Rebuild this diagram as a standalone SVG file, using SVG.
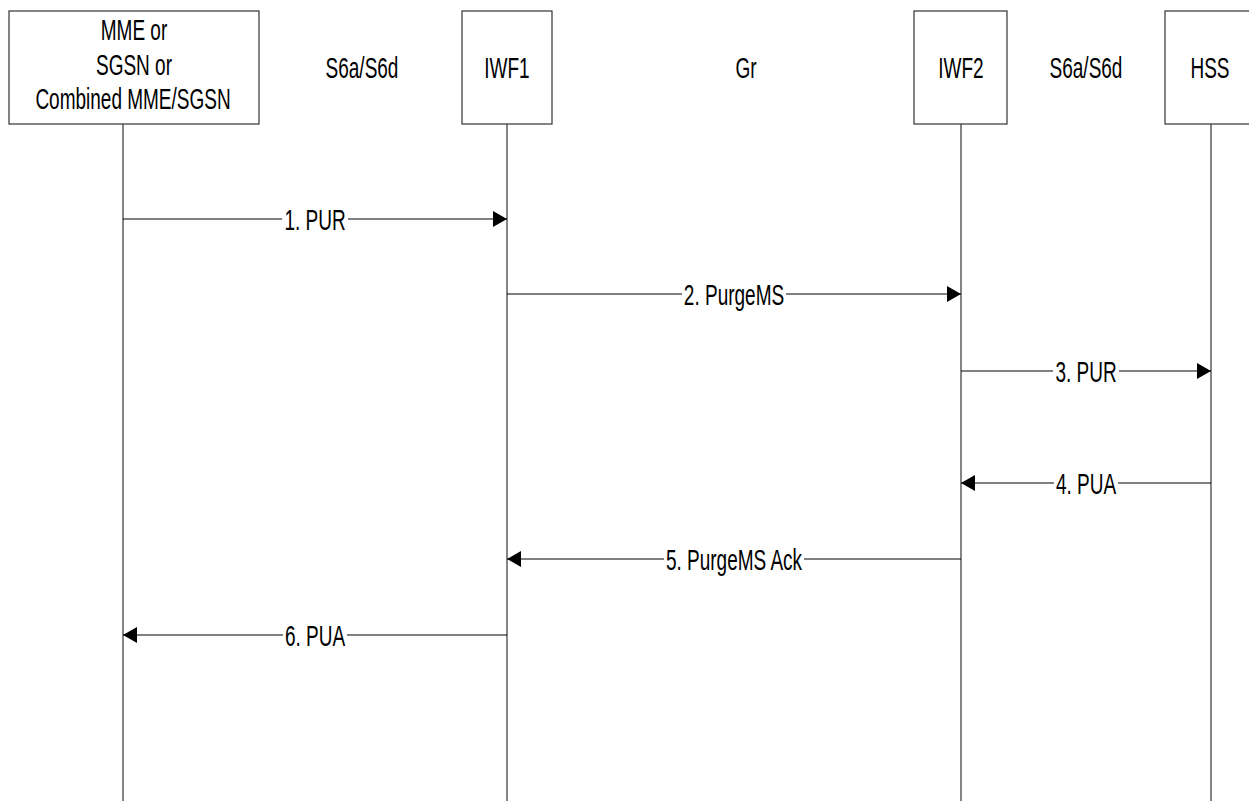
<svg xmlns="http://www.w3.org/2000/svg" width="1249" height="801" viewBox="0 0 1249 801">
<style>
text{font-family:"Liberation Sans",Arial,sans-serif;font-size:20px;fill:#000;text-anchor:middle}
.box{fill:#fff;stroke:#333;stroke-width:1.2}
.life{stroke:#333;stroke-width:1.2;fill:none}
.msg{stroke:#000;stroke-width:1;fill:none}
.bg{fill:#fff}
</style>
<defs>
<marker id="ah" markerWidth="15" markerHeight="16" refX="14" refY="8" orient="auto" markerUnits="userSpaceOnUse">
<path d="M0,0 L14,8 L0,16 Z" fill="#000"/>
</marker>
</defs>
<rect width="1249" height="801" fill="#fff"/>
<g id="lifelines">
<line class="life" x1="123" y1="124" x2="123" y2="801"/>
<line class="life" x1="507" y1="124" x2="507" y2="801"/>
<line class="life" x1="961" y1="124" x2="961" y2="801"/>
<line class="life" x1="1211" y1="124" x2="1211" y2="801"/>
</g>
<g id="node-mme">
<rect class="box" x="9" y="11" width="250" height="113"/>
<text transform="matrix(0.95,0,0,1.45,134,40)">MME or</text>
<text transform="matrix(0.95,0,0,1.45,134,74.5)">SGSN or</text>
<text transform="matrix(0.95,0,0,1.45,133,109)">Combined MME/SGSN</text>
</g>
<g id="node-iwf1">
<rect class="box" x="462" y="11" width="90" height="113"/>
<text transform="matrix(0.95,0,0,1.45,507,78)">IWF1</text>
</g>
<g id="node-iwf2">
<rect class="box" x="914" y="11" width="93" height="113"/>
<text transform="matrix(0.95,0,0,1.45,961,78)">IWF2</text>
</g>
<g id="node-hss">
<rect class="box" x="1165" y="11" width="92" height="113"/>
<text transform="matrix(0.95,0,0,1.45,1210,78)">HSS</text>
</g>
<g id="interface-labels">
<text transform="matrix(0.95,0,0,1.45,362,78)">S6a/S6d</text>
<text transform="matrix(0.95,0,0,1.45,746,78)">Gr</text>
<text transform="matrix(0.95,0,0,1.45,1086,78)">S6a/S6d</text>
</g>
<g id="connectors">
<line class="msg" x1="123" y1="219" x2="507" y2="219" marker-end="url(#ah)"/>
<rect class="bg" x="282" y="206" width="66" height="26"/>
<text transform="matrix(0.95,0,0,1.45,315,229.5)">1. PUR</text>
<line class="msg" x1="507" y1="294" x2="961" y2="294" marker-end="url(#ah)"/>
<rect class="bg" x="682" y="281" width="104" height="26"/>
<text transform="matrix(0.95,0,0,1.45,734,304.5)">2. PurgeMS</text>
<line class="msg" x1="961" y1="371" x2="1211" y2="371" marker-end="url(#ah)"/>
<rect class="bg" x="1053" y="358" width="66" height="26"/>
<text transform="matrix(0.95,0,0,1.45,1086,381.5)">3. PUR</text>
<line class="msg" x1="1211" y1="483" x2="961" y2="483" marker-end="url(#ah)"/>
<rect class="bg" x="1054" y="470" width="64" height="26"/>
<text transform="matrix(0.95,0,0,1.45,1086,493.5)">4. PUA</text>
<line class="msg" x1="961" y1="559" x2="507" y2="559" marker-end="url(#ah)"/>
<rect class="bg" x="664" y="546" width="140" height="26"/>
<text transform="matrix(0.95,0,0,1.45,734,569.5)">5. PurgeMS Ack</text>
<line class="msg" x1="507" y1="635" x2="123" y2="635" marker-end="url(#ah)"/>
<rect class="bg" x="283" y="622" width="64" height="26"/>
<text transform="matrix(0.95,0,0,1.45,315,645.5)">6. PUA</text>
</g>
</svg>
